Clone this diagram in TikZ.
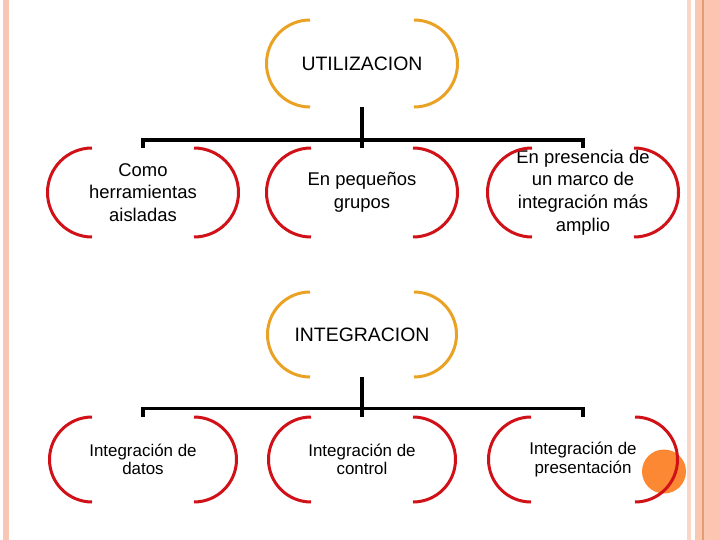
\documentclass[tikz,border=0pt]{standalone}
\usepackage{fontspec}
\setmainfont{Liberation Sans}
\definecolor{brk}{RGB}{208,18,24}
\definecolor{gold}{RGB}{234,162,36}
\definecolor{dot}{RGB}{252,136,52}
\definecolor{stripeA}{RGB}{248,198,178}
\definecolor{stripeB}{RGB}{251,213,198}
\definecolor{stripeC}{RGB}{249,200,176}
\definecolor{stripeD}{RGB}{232,154,112}
\definecolor{stripeE}{RGB}{252,197,178}
\begin{document}
\begin{tikzpicture}[x=1bp,y=-1bp,
  box/.style={inner sep=0pt, align=center, draw=none},
  big/.style={font=\fontsize{19.5}{23}\selectfont},
  mid/.style={font=\fontsize{18.5}{22.7}\selectfont},
  small/.style={font=\fontsize{17}{18.5}\selectfont},
  conn/.style={line width=3.5bp, black},
  arcred/.style={line width=3bp, brk},
  arcgold/.style={line width=3bp, gold}]
\useasboundingbox (0,0) rectangle (720,540);
% decorative stripes
\fill[stripeA] (3,0) rectangle (9,540);
\fill[stripeB] (687,0) rectangle (691,540);
\fill[stripeC] (695,0) rectangle (702,540);
\fill[stripeD] (702,0) rectangle (703.5,540);
\fill[stripeC] (703.5,0) rectangle (708,540);
\fill[stripeE] (708,0) rectangle (720,540);
\fill[dot] (664,471.5) circle (22);
% nodes
\node[box, minimum height=87bp, big] (u) at (362,63.5) {UTILIZACION};
\node[box, minimum height=89bp, mid] (a) at (143,192.5) {Como\\herramientas\\aisladas};
\node[box, minimum height=89bp, mid] (b) at (362,192.5) {En pequeños\\grupos};
\node[box, minimum height=89bp, mid] (c) at (583,192.5) {En presencia de\\un marco de\\integración más\\amplio};
\node[box, minimum height=85bp, big] (i) at (362,334.5) {INTEGRACION};
\node[box, minimum height=85bp, small] (d) at (143,459.5) {Integración de\\datos};
\node[box, minimum height=85bp, small] (e) at (362,459.5) {Integración de\\control};
\node[box, minimum height=85bp, small] (f) at (583,459.5) {Integración de\\presentación};
\coordinate (j1) at (362,140);
\coordinate (j2) at (362,408.5);
% brackets (half-width / radius)
\foreach \nd/\st/\hw/\rr in {u/arcgold/52/43.5,i/arcgold/52/42.5,a/arcred/51/44.5,b/arcred/51/44.5,c/arcred/51/44.5,d/arcred/51/42.5,e/arcred/51/42.5,f/arcred/52/42.5}{
  \draw[\st, shift={(\nd.center)}] (-\hw,-\rr) arc[start angle=90, end angle=270, radius=\rr bp];
  \draw[\st, shift={(\nd.center)}] (\hw,-\rr) arc[start angle=90, end angle=-90, radius=\rr bp];
}
% connectors
\draw[conn] (u.south) -- (b.north);
\draw[conn] (a.north) -- (a.north |- j1) -- (c.north |- j1) -- (c.north);
\draw[conn] (i.south) -- (e.north);
\draw[conn] (d.north) -- (d.north |- j2) -- (f.north |- j2) -- (f.north);
\end{tikzpicture}
\end{document}
